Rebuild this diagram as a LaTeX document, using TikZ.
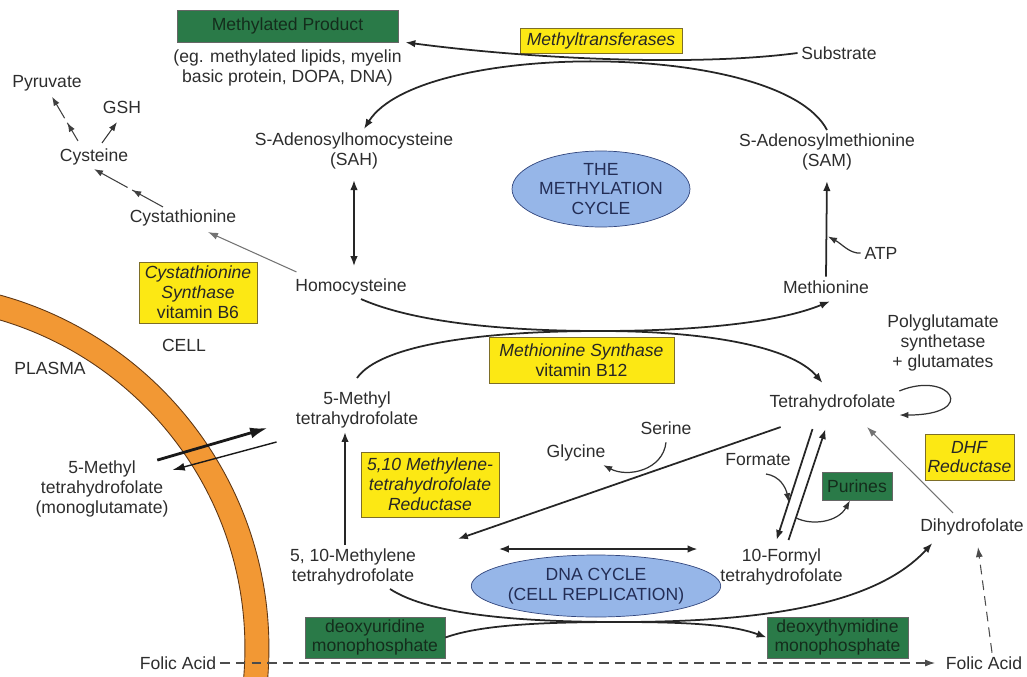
\documentclass[tikz,border=0pt]{standalone}
\usepackage{fontspec}
\setmainfont{Liberation Sans}
\usepackage{xcolor}
\usetikzlibrary{arrows.meta,positioning,shapes.geometric,decorations.markings}

\definecolor{txtgray}{RGB}{45,45,45}
\definecolor{enzyellow}{RGB}{252,232,20}
\definecolor{enzborder}{RGB}{125,110,40}
\definecolor{prodgreen}{RGB}{42,122,72}
\definecolor{prodtext}{RGB}{20,45,28}
\definecolor{cycleblue}{RGB}{150,182,232}
\definecolor{cycleborder}{RGB}{50,70,125}
\definecolor{cycletext}{RGB}{35,45,85}
\definecolor{membrane}{RGB}{242,152,52}
\definecolor{membraneedge}{RGB}{95,55,20}

\begin{document}
\begin{tikzpicture}[x=0.02cm, y=-0.02cm, font=\fontsize{10}{11.3}\selectfont, text=txtgray,
    every node/.style={align=center, inner sep=2pt},
    enzyme/.style={draw=enzborder, fill=enzyellow, text=black!85, inner sep=1pt},
    product/.style={draw=black!60, fill=prodgreen, text=prodtext, inner sep=1pt},
    cycle/.style={ellipse, draw=cycleborder, fill=cycleblue, text=cycletext, inner sep=0pt},
    flow/.style={line width=1pt, black!85, -{Latex[length=2mm,width=1.5mm]}},
    bothflow/.style={line width=1pt, black!85, {Latex[length=2mm,width=1.5mm]}-{Latex[length=2mm,width=1.5mm]}},
    sideflow/.style={line width=0.7pt, black!80, -{Latex[length=1.8mm,width=1.3mm]}},
    thinflow/.style={line width=0.6pt, black!55, -{Latex[length=2mm,width=1.4mm]}},
    dashflow/.style={line width=0.6pt, black!70, dash pattern=on 5.5pt off 3.5pt, -{Latex[length=2mm,width=1.4mm]}},
    hop/.style={line width=0.6pt, black!75, dash pattern=on #1 off 3pt, -{Latex[length=1.8mm,width=1.3mm]},
      postaction={decorate}, decoration={markings, mark=at position #1 with {\arrow{Latex[length=1.8mm,width=1.3mm]}}}}]
  \useasboundingbox (0,0) rectangle (1027,676);

  % cell membrane
  \begin{scope}
    \clip (0,0) rectangle (1027,676);
    \draw[membrane, line width=0.48cm] (-97,648) circle[radius=7.08cm];
    \draw[membraneedge, line width=0.5pt] (-97,648) circle[radius=7.32cm] (-97,648) circle[radius=6.84cm];
  \end{scope}

  % methylation cycle
  \node[product, minimum width=4.42cm, minimum height=0.64cm] (mp) at (287.5,26) {Methylated Product};
  \node[below=2pt of mp] (mpnote) {(eg. methylated lipids, myelin\\basic protein, DOPA, DNA)};
  \node[enzyme, minimum width=3.24cm, minimum height=0.5cm] (mtase) at (601,40.5) {\textit{Methyltransferases}};
  \node (sub) at (839,53) {Substrate};
  \node (sah) at (354,151) {S-Adenosylhomocysteine\\(SAH)};
  \node (sam) at (827,152) {S-Adenosylmethionine\\(SAM)};
  \node[cycle, minimum width=3.56cm, minimum height=1.52cm] (methcyc) at (601,189) {THE\\METHYLATION\\CYCLE};
  \node (hcy) at (351,287) {Homocysteine};
  \node (met) at (826,287) {Methionine};
  \node (atp) at (881,253) {ATP};

  % transsulfuration
  \node (cysthio) at (183,218) {Cystathionine};
  \node (cys) at (94,157) {Cysteine};
  \node (pyr) at (47,83) {Pyruvate};
  \node (gsh) at (122,107) {GSH};
  \node[enzyme, minimum width=2.36cm, minimum height=1.22cm] (cbs) at (198,292.5) {\textit{Cystathionine}\\\textit{Synthase}\\vitamin B6};
  \node (cell) at (184,345) {CELL};
  \node (plasma) at (50,368) {PLASMA};

  % folate cycle
  \node[enzyme, minimum width=3.7cm, minimum height=0.92cm] (msyn) at (581.5,360) {\textit{Methionine Synthase}\\vitamin B12};
  \node (pgs) at (943,343) {Polyglutamate\\synthetase\\+ glutamates};
  \node (thf) at (832.5,403) {Tetrahydrofolate};
  \node (mthf) at (357,410) {5-Methyl\\tetrahydrofolate};
  \node (pmthf) at (102,489) {5-Methyl\\tetrahydrofolate\\(monoglutamate)};
  \node (ser) at (666,428) {Serine};
  \node (gly) at (576,453) {Glycine};
  \node[enzyme, minimum width=2.76cm, minimum height=1.3cm] (mthfr) at (430,484.5) {\textit{5,10 Methylene-}\\\textit{tetrahydrofolate}\\\textit{Reductase}};
  \node (frm) at (758,460) {Formate};
  \node[product, minimum width=1.4cm, minimum height=0.56cm] (pur) at (857,486) {Purines};
  \node (ffthf) at (781.5,567) {10-Formyl\\tetrahydrofolate};
  \node[enzyme, minimum width=1.78cm, minimum height=0.92cm] (dhfr) at (969.5,457) {\textit{DHF}\\\textit{Reductase}};
  \node (dhf) at (972,527) {Dihydrofolate};

  % DNA cycle
  \node[cycle, minimum width=4.28cm, minimum height=1.24cm] (dnacyc) at (596,586) {DNA CYCLE\\(CELL REPLICATION)};
  \node (mthy) at (353,567) {5, 10-Methylene\\tetrahydrofolate};
  \node[product, minimum width=2.8cm, minimum height=0.82cm] (dump) at (375,637.5) {deoxyuridine\\monophosphate};
  \node[product, minimum width=2.82cm, minimum height=0.82cm] (dtmp) at (837.5,637.5) {deoxythymidine\\monophosphate};
  \node (fa1) at (178,663) {Folic Acid};
  \node (fa2) at (984,663) {Folic Acid};

  % connectors, methylation cycle
  \draw[flow] (sub.west) .. controls (700,66) and (540,60) .. ([shift={(7,0)}]mp.south east);
  \draw[flow] (sam.north) .. controls (780,40) and (420,40) .. ([shift={(10,0)}]sah.north);
  \draw[bothflow, shorten <=4pt, shorten >=5pt] (sah.south) -- ([shift={(3,0)}]hcy.north);
  \draw[flow, shorten >=4pt] (met.north) -- coordinate[pos=0.4] (atpin) (sam.south);
  \draw[sideflow, shorten >=1pt] (atp.west) .. controls (850,254) and (842,244) .. (atpin);
  \draw[flow] ([shift={(10,0)}]hcy.south) .. controls (420,325) and (520,331) .. (600,331)
    .. controls (700,331) and (780,322) .. ([shift={(4,4)}]met.south);
  \draw[flow] ([shift={(0,-10)}]mthf.north) .. controls (380,345) and (480,331) .. (600,331)
    .. controls (700,331) and (790,345) .. ([shift={(-10,-8)}]thf.north);

  % connectors, transsulfuration
  \draw[thinflow] ([shift={(5,-3)}]hcy.north west) -- ([shift={(25,2)}]cysthio.south);
  \draw[hop=20pt] ([shift={(-20,1)}]cysthio.north) -- (cys.south);
  \draw[hop=12pt] ([shift={(-16,-4)}]cys.north) -- ([shift={(5,2)}]pyr.south);
  \draw[sideflow, line width=0.6pt] ([shift={(8,-2)}]cys.north) -- ([shift={(-5,5)}]gsh.south);

  % connectors, folate cycle
  \draw[sideflow] (thf.north east) .. controls (950,370) and (980,415) .. (thf.south east);
  \draw[flow] ([shift={(15,12)}]thf.south west) -- ([shift={(38,-6)}]mthy.north east);
  \draw[sideflow] ([shift={(0,4)}]ser.south) .. controls (663,470) and (628,478) .. ([shift={(-6,0)}]gly.south east);
  \draw[flow] ([shift={(-20,14)}]thf.south) -- coordinate[pos=0.66] (fmin) ([shift={(-5,-5)}]ffthf.north);
  \draw[flow] ([shift={(7,-5)}]ffthf.north) -- coordinate[pos=0.2] (purout) ([shift={(-7,14)}]thf.south);
  \draw[sideflow] ([shift={(8,4)}]frm.south) .. controls (780,476) and (786,488) .. (fmin);
  \draw[sideflow] (purout) .. controls (812,526) and (838,522) .. ([shift={(-7,0)}]pur.south);
  \draw[thinflow] ([shift={(-19,-2)}]dhf.north) -- ([shift={(34.5,12)}]thf.south);
  \draw[flow] ([shift={(-8,0)}]mthy.north) -- ([shift={(-12,0)}]mthf.south);
  \draw[bothflow] ([shift={(79,-18)}]mthy.east) -- ([shift={(-19,-18)}]ffthf.west);

  % membrane transport
  \draw[line width=1.6pt, black!90, -{Latex[length=3.5mm,width=2.2mm]}] ([shift={(-15,3)}]pmthf.north east) -- ([shift={(-24.5,-4)}]mthf.south west);
  \draw[line width=0.8pt, black!90, -{Latex[length=2.5mm,width=1.6mm]}] ([shift={(-15.5,10)}]mthf.south west) -- ([shift={(0,13)}]pmthf.north east);

  % connectors, DNA cycle
  \draw[flow] ([shift={(37,0)}]mthy.south) .. controls (430,615) and (520,622) .. (620,622)
    .. controls (780,622) and (880,600) .. ([shift={(16,4)}]dhf.south west);
  \draw[flow] (dump.east) .. controls (480,625) and (540,622) .. (620,622)
    .. controls (700,622) and (735,626) .. (dtmp.west);
  \draw[dashflow, shorten >=4pt] (fa1.east) -- (fa2.west);
  \draw[dashflow] ([shift={(8,0)}]fa2.north) -- ([shift={(6,8)}]dhf.south);
\end{tikzpicture}
\end{document}
